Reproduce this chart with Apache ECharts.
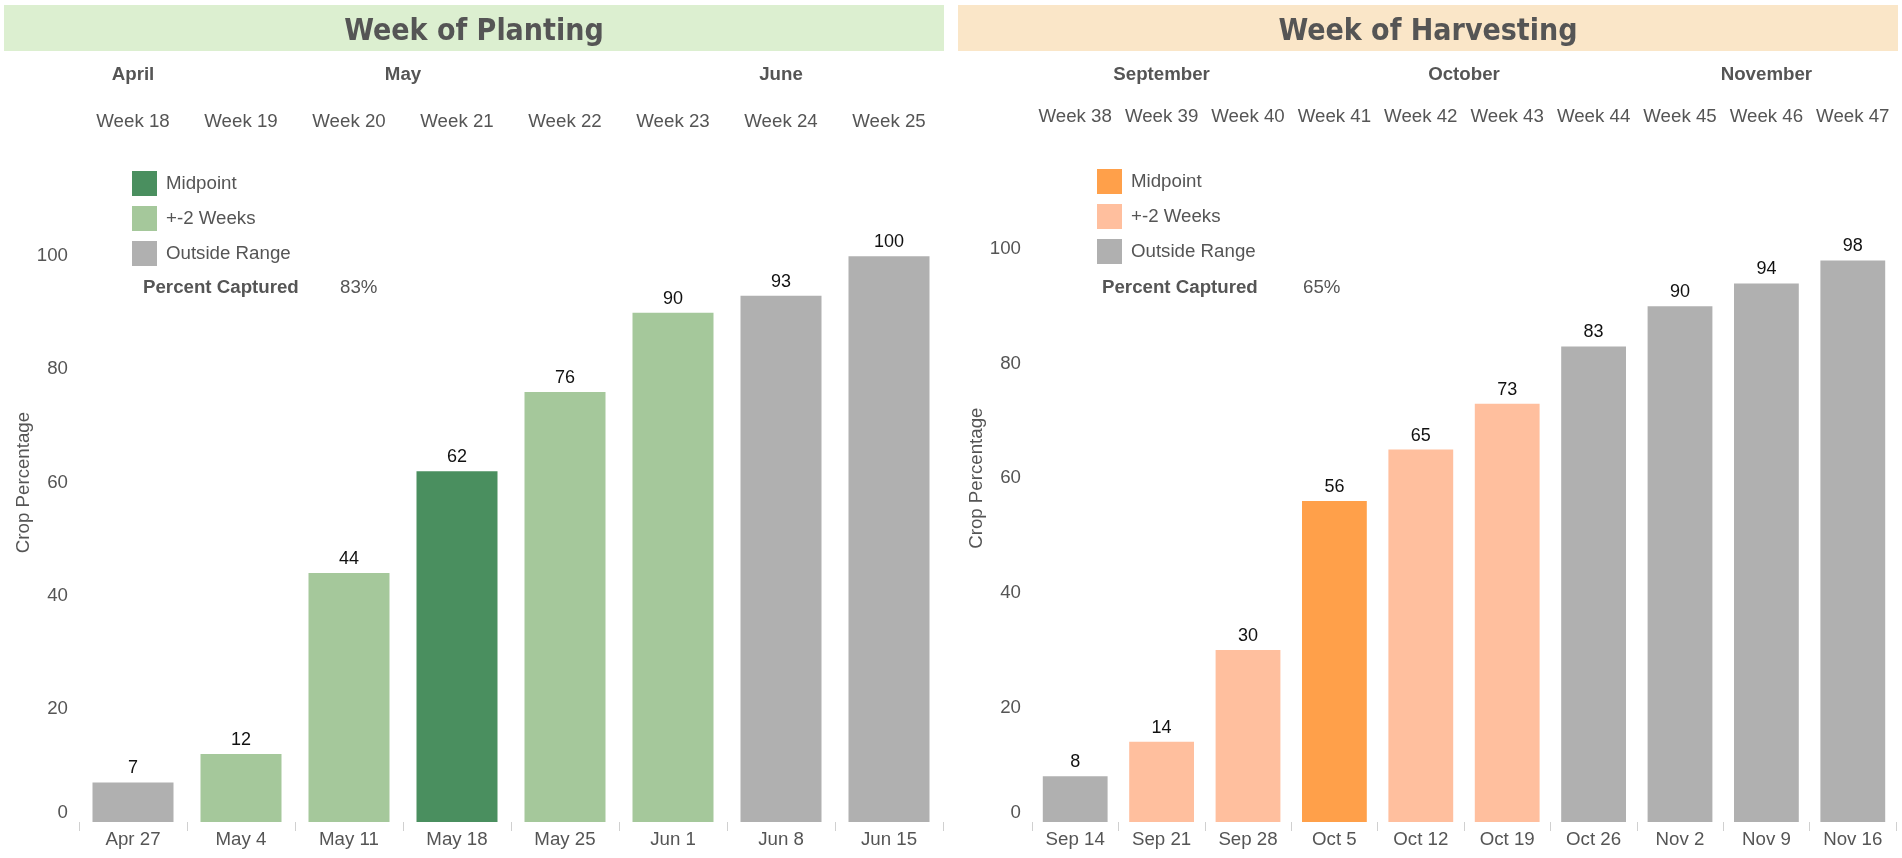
<!DOCTYPE html>
<html><head><meta charset="utf-8">
<script src="https://cdn.jsdelivr.net/npm/echarts@6/dist/echarts.min.js"></script>
<style>html,body{margin:0;padding:0;background:#fff}#c{width:1902px;height:858px}</style>
</head><body><div id="c"></div>
<script>
// ---------- data ----------
const plantTitle = 'Week of Planting';
const harvestTitle = 'Week of Harvesting';
const plantDates = ['Apr 27','May 4','May 11','May 18','May 25','Jun 1','Jun 8','Jun 15'];
const plantWeeks = ['Week 18','Week 19','Week 20','Week 21','Week 22','Week 23','Week 24','Week 25'];
const plantMonths = ['April','May','May','May','May','June','June','June'];
const plantValues = [7,12,44,62,76,90,93,100];
const plantStatus = ['out','range','range','mid','range','range','out','out'];
const plantCaptured = '83%';

const harvestDates = ['Sep 14','Sep 21','Sep 28','Oct 5','Oct 12','Oct 19','Oct 26','Nov 2','Nov 9','Nov 16'];
const harvestWeeks = ['Week 38','Week 39','Week 40','Week 41','Week 42','Week 43','Week 44','Week 45','Week 46','Week 47'];
const harvestMonths = ['September','September','September','October','October','October','October','November','November','November'];
const harvestValues = [8,14,30,56,65,73,83,90,94,98];
const harvestStatus = ['out','range','range','mid','range','range','out','out','out','out'];
const harvestCaptured = '65%';

const statusKeys = ['mid','range','out'];
const statusNames = ['Midpoint','+-2 Weeks','Outside Range'];
const yTicks = {min:0, max:120, interval:20};

// ---------- style ----------
const FONT = "'Liberation Sans', Arial, sans-serif";
const TXT = '#555555';
const FS = 18.7;
const plantColors = {mid:'#4a8f5f', range:'#a5c89b', out:'#b0b0b0'};
const harvestColors = {mid:'#ffa04a', range:'#ffbf9e', out:'#b0b0b0'};

function makeSeries(prefix, values, status, xi, yi, colors){
  return statusKeys.map((k, si) => ({
    name: prefix + '|' + statusNames[si],
    type: 'bar',
    xAxisIndex: xi, yAxisIndex: yi,
    stack: prefix,
    barCategoryGap: '25%',
    itemStyle: {color: colors[k]},
    label: {show: true, position: 'top', distance: 5, color: '#111', fontSize: 18, fontFamily: FONT},
    emphasis: {disabled: true},
    data: values.map((v, i) => status[i] === k ? v : '-')
  }));
}

function yAxis(gi){
  return {
    type: 'value', gridIndex: gi, min: yTicks.min, max: yTicks.max, interval: yTicks.interval,
    name: 'Crop Percentage', nameLocation: 'middle', nameGap: 46,
    nameTextStyle: {color: TXT, fontSize: FS, fontFamily: FONT},
    axisLine: {show: false}, axisTick: {show: false}, splitLine: {show: false},
    axisLabel: {
      color: TXT, fontSize: FS, fontFamily: FONT, margin: 11,
      formatter: v => v > 100 ? '' : (v === 0 ? '{z|0}' : String(v)),
      rich: {z: {color: TXT, fontSize: FS, fontFamily: FONT, padding: [0,0,18,0]}}
    }
  };
}
function xBottom(gi, data){
  return {
    type: 'category', gridIndex: gi, position: 'bottom', data: data,
    axisLine: {show: false},
    axisTick: {show: true, length: 9, lineStyle: {color: '#d0d0d0', width: 1}},
    axisLabel: {color: TXT, fontSize: FS, fontFamily: FONT, margin: 8, interval: 0}
  };
}
function xTop(gi, data, margin){
  return {
    type: 'category', gridIndex: gi, position: 'top', data: data,
    axisLine: {show: false}, axisTick: {show: false},
    axisLabel: {color: TXT, fontSize: FS, fontFamily: FONT, margin: margin, interval: 0, hideOverlap: false}
  };
}
function legend(prefix, left, top){
  return {
    left: left, top: top, orient: 'vertical', itemWidth: 25, itemHeight: 25, itemGap: 10,
    padding: 0,
    icon: 'rect', selectedMode: false,
    data: statusNames.map(n => prefix + '|' + n),
    formatter: n => n.split('|')[1],
    textStyle: {color: TXT, fontSize: FS, fontFamily: FONT, padding: [0,0,0,4]}
  };
}

const chart = echarts.init(document.getElementById('c'), null, {renderer: 'canvas'});
const option = {
  animation: false,
  backgroundColor: '#ffffff',
  grid: [
    {left: 79, top: 143, width: 864, height: 679},
    {left: 1032, top: 134.4, width: 864, height: 687.6}
  ],
  xAxis: [
    xBottom(0, plantDates), xTop(0, plantWeeks, 12),
    xBottom(1, harvestDates), xTop(1, harvestWeeks, 8)
  ],
  yAxis: [yAxis(0), yAxis(1)],
  legend: [legend('P', 132, 171), legend('H', 1097, 169)],
  series: [].concat(
    makeSeries('P', plantValues, plantStatus, 0, 0, plantColors),
    makeSeries('H', harvestValues, harvestStatus, 2, 1, harvestColors)
  )
};
chart.setOption(option);

// ---------- header graphics ----------
function monthGroups(months){
  const g = [];
  months.forEach((m, i) => {
    if (g.length && g[g.length-1].name === m) g[g.length-1].end = i;
    else g.push({name: m, start: i, end: i});
  });
  return g;
}
function monthTexts(months, xi){
  return monthGroups(months).map(g => {
    const x0 = chart.convertToPixel({xAxisIndex: xi}, g.start);
    const x1 = chart.convertToPixel({xAxisIndex: xi}, g.end);
    return {type: 'text', x: (x0 + x1) / 2, y: 75,
      style: {text: g.name, align: 'center', verticalAlign: 'middle', fill: TXT,
        fontSize: FS, fontWeight: 'bold', fontFamily: FONT}};
  });
}
const titleFont = "'DejaVu Sans Condensed', 'DejaVu Sans', sans-serif";
const graphics = [
  {type: 'rect', shape: {x: 4, y: 5, width: 940, height: 46}, style: {fill: '#dcefd0'}},
  {type: 'rect', shape: {x: 958, y: 5, width: 940, height: 46}, style: {fill: '#fae6c8'}},
  {type: 'text', x: 474, y: 32, style: {text: plantTitle, align: 'center', verticalAlign: 'middle',
    fill: TXT, fontSize: 30, fontWeight: 'bold', fontFamily: titleFont}},
  {type: 'text', x: 1428, y: 32, style: {text: harvestTitle, align: 'center', verticalAlign: 'middle',
    fill: TXT, fontSize: 30, fontWeight: 'bold', fontFamily: titleFont}},
  {type: 'text', x: 143, y: 288, style: {text: 'Percent Captured', align: 'left', verticalAlign: 'middle',
    fill: TXT, fontSize: FS, fontWeight: 'bold', fontFamily: FONT}},
  {type: 'text', x: 340, y: 288, style: {text: plantCaptured, align: 'left', verticalAlign: 'middle',
    fill: TXT, fontSize: FS, fontFamily: FONT}},
  {type: 'text', x: 1102, y: 288, style: {text: 'Percent Captured', align: 'left', verticalAlign: 'middle',
    fill: TXT, fontSize: FS, fontWeight: 'bold', fontFamily: FONT}},
  {type: 'text', x: 1303, y: 288, style: {text: harvestCaptured, align: 'left', verticalAlign: 'middle',
    fill: TXT, fontSize: FS, fontFamily: FONT}}
].concat(monthTexts(plantMonths, 0), monthTexts(harvestMonths, 2));
chart.setOption({graphic: graphics});
</script>
</body></html>
